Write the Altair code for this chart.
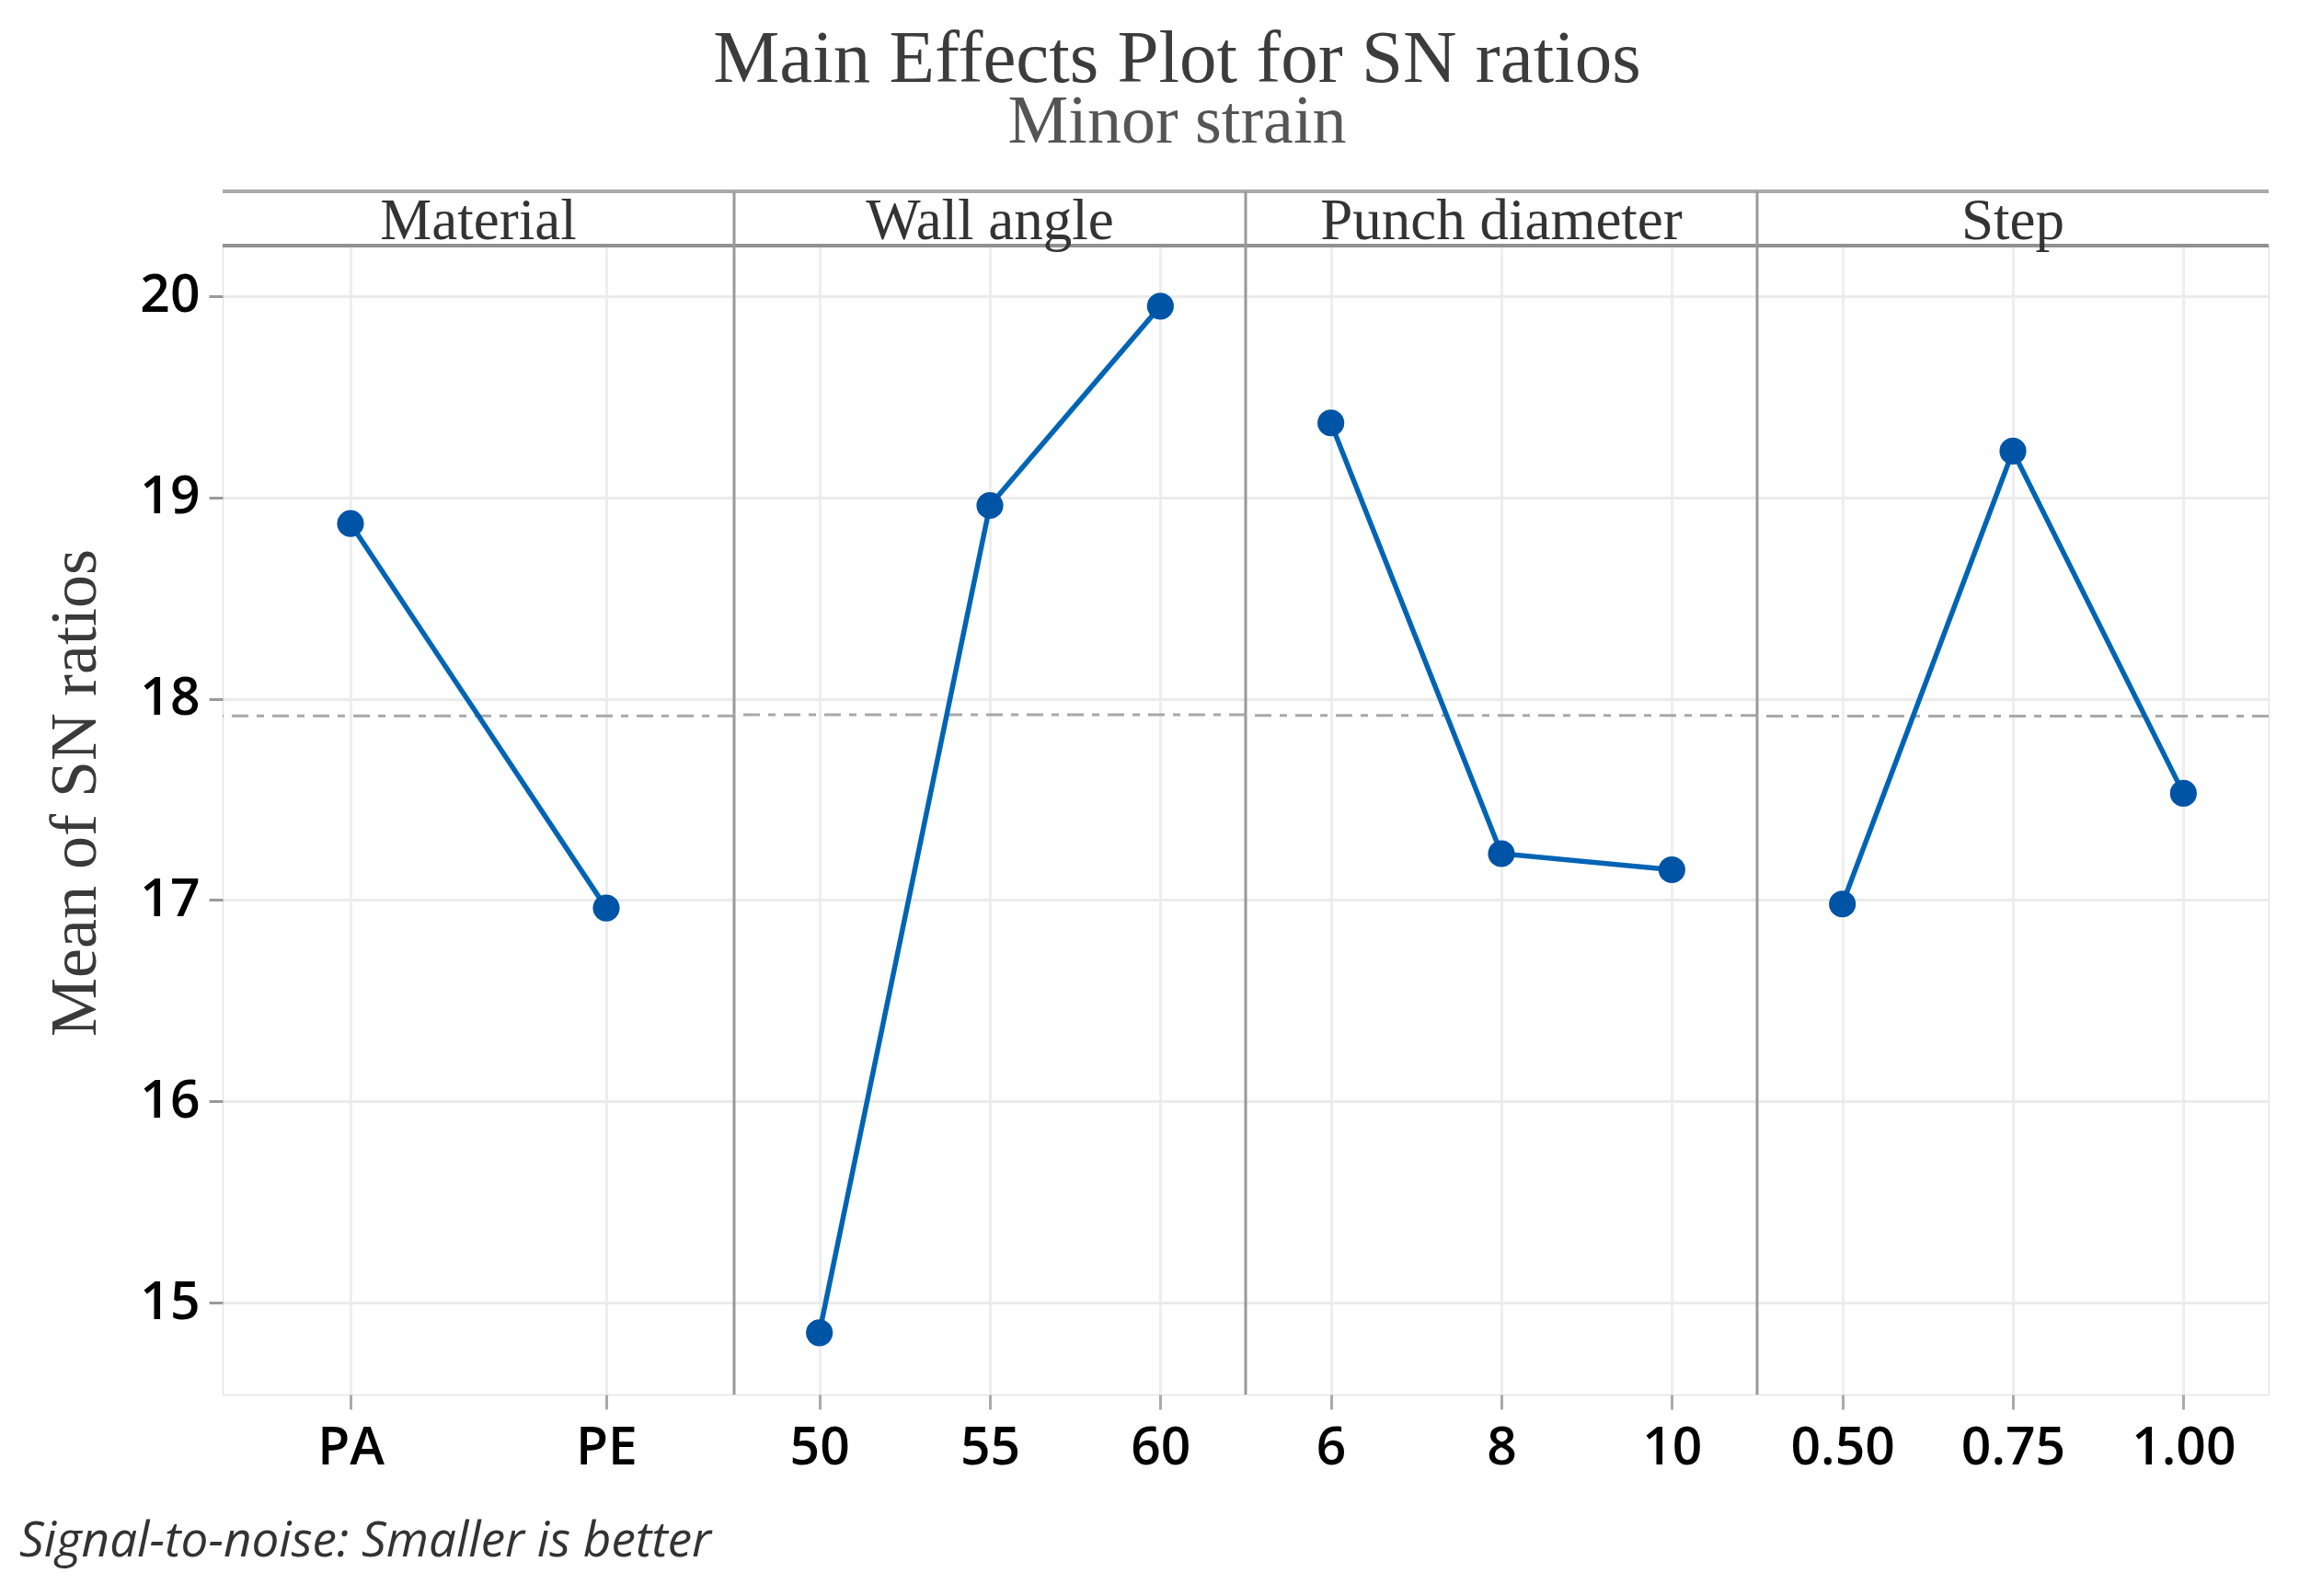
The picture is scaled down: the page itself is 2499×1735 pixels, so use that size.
import altair as alt
import pandas as pd

# ---- data ----
factors = ["Material", "Wall angle", "Punch diameter", "Step"]
levels = {
    "Material": ["PA", "PE"],
    "Wall angle": ["50", "55", "60"],
    "Punch diameter": ["6", "8", "10"],
    "Step": ["0.50", "0.75", "1.00"],
}
sn_means = {
    "Material": [18.87, 16.96],
    "Wall angle": [14.85, 18.96, 19.95],
    "Punch diameter": [19.37, 17.23, 17.15],
    "Step": [16.98, 19.23, 17.53],
}
y_ticks = [15, 16, 17, 18, 19, 20]

TITLE = "Main Effects Plot for SN ratios"
SUBTITLE = "Minor strain"
Y_TITLE = "Mean of SN ratios"
FOOTNOTE = "Signal-to-noise: Smaller is better"

# ---- style ----
W = 556
H = 1249
SERIF = "Liberation Serif"
SANS = "Open Sans"
LINE_COLOR = "#0064b4"
POINT_COLOR = "#0054a6"
GRID = "#ebebeb"

yscale = alt.Scale(domain=[14.543, 20.251], nice=False, zero=False)


def y_axis(first):
    if first:
        return alt.Axis(values=y_ticks, title=Y_TITLE, grid=True, gridColor=GRID, gridWidth=3,
                        domain=False, ticks=True, tickSize=15, tickWidth=3, tickColor="#999999",
                        labelFont=SANS, labelFontSize=57, labelFontWeight=600, labelColor="#000000",
                        labelPadding=10, titleFont=SERIF, titleFontSize=72, titleFontWeight="normal",
                        titleColor="#3a3a3a", titlePadding=33, titleY=H / 2 - 30)
    return alt.Axis(values=y_ticks, title=None, grid=True, gridColor=GRID, gridWidth=3,
                    domain=False, ticks=False, labels=False)


def panel(i, name):
    df = pd.DataFrame({"level": levels[name], "value": sn_means[name]})
    one = pd.DataFrame({"factor": [name]})
    xenc = alt.X("level:N", sort=levels[name],
                 scale=alt.Scale(type="point", padding=0.5),
                 axis=alt.Axis(title=None, labelAngle=0, grid=True, gridColor="#eeeeee", gridWidth=3,
                               domain=False, ticks=True, tickSize=16, tickWidth=3, tickColor="#aaaaaa",
                               labelFont=SANS, labelFontSize=57, labelFontWeight=600,
                               labelColor="#000000", labelPadding=14))
    yax = y_axis(i == 0)

    head_top = alt.Chart(one).mark_rule(color="#ababab", strokeWidth=4).encode(
        x=alt.value(0), x2=alt.value(W), y=alt.value(-59))
    head_bot = alt.Chart(one).mark_rule(color="#919191", strokeWidth=4).encode(
        x=alt.value(0), x2=alt.value(W), y=alt.value(0))
    head_txt = alt.Chart(one).mark_text(font=SERIF, fontSize=63, color="#333333",
                                        baseline="alphabetic", align="center").encode(
        text="factor:N", x=alt.value(W / 2), y=alt.value(-7))
    mean_rule = alt.Chart(df).mark_rule(color="#a8a8a8", strokeWidth=3,
                                        strokeDash=[18, 9, 8, 9]).encode(
        y=alt.Y("mean(value):Q", scale=yscale, axis=yax))
    line = alt.Chart(df).mark_line(color=LINE_COLOR, strokeWidth=5.5).encode(
        x=xenc, y=alt.Y("value:Q", scale=yscale, axis=yax))
    pts = alt.Chart(df).mark_point(filled=True, size=850, opacity=1, color=POINT_COLOR).encode(
        x=xenc, y=alt.Y("value:Q", scale=yscale, axis=yax))

    layers = [head_top, head_bot, mean_rule, line, pts, head_txt]
    if i > 0:
        divider = alt.Chart(one).mark_rule(color="#9a9a9a", strokeWidth=3).encode(
            x=alt.value(0), y=alt.value(-59), y2=alt.value(H))
        layers.insert(2, divider)
    if i == 0:
        foot = alt.Chart(pd.DataFrame({"t": [FOOTNOTE]})).mark_text(
            font=SANS, fontSize=53, fontStyle="italic", color="#333333",
            align="left", baseline="alphabetic").encode(
            text="t:N", x=alt.value(-221), y=alt.value(H + 176))
        layers.append(foot)
    return alt.layer(*layers).properties(width=W, height=H)


chart = alt.hconcat(*[panel(i, f) for i, f in enumerate(factors)], spacing=0, bounds="flush").properties(
    title=alt.TitleParams(text=TITLE, subtitle=SUBTITLE, font=SERIF, fontSize=81, fontWeight="normal",
                          color="#3c3c3c", subtitleFont=SERIF, subtitleFontSize=74,
                          subtitleColor="#555555", subtitlePadding=-9, anchor="middle", offset=35,
                          dx=35),
    padding={"left": 12, "top": 15, "right": 5, "bottom": 5},
).configure_view(stroke="#e6e6e6", strokeWidth=3).configure(background="white")

chart.save("out.html", embed_options={"renderer": "svg", "actions": False})
